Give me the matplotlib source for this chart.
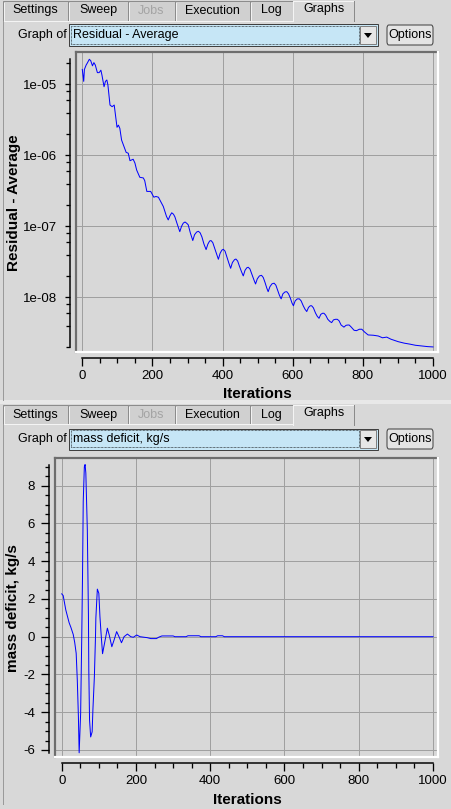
import matplotlib
matplotlib.use("Agg")
import matplotlib.pyplot as plt
from matplotlib.patches import Rectangle, FancyBboxPatch, Polygon
from matplotlib.lines import Line2D
from matplotlib.ticker import FixedLocator, FuncFormatter, MultipleLocator, NullFormatter

plt.rcParams['font.family'] = ['Liberation Sans', 'DejaVu Sans']
plt.rcParams['axes.unicode_minus'] = False

W, H = 451, 809
PT = 0.72          # points per pixel at dpi 100
BG = '#d8d8d8'

tab_names = ['Settings', 'Sweep', 'Jobs', 'Execution', 'Log', 'Graphs']
panel_titles = ['Residual - Average', 'mass deficit, kg/s']
x_label = 'Iterations'

# residual history
res_iter = [0, 4, 6, 11, 14, 20, 24, 29, 33, 37,
            43, 48, 53, 56, 62, 66, 70, 73, 79, 85,
            91, 96, 99, 103, 107, 112, 119, 125, 131, 136,
            145, 150, 155, 164, 174, 178, 184, 195, 204, 210,
            217, 231, 240, 245, 250, 255, 260, 264, 270, 278,
            283, 288, 293, 298, 302, 308, 315, 320, 326, 331,
            336, 341, 347, 353, 358, 363, 367, 372, 378, 383,
            388, 393, 398, 402, 407, 412, 418, 423, 428, 434,
            438, 443, 448, 454, 459, 464, 469, 473, 478, 483,
            489, 494, 499, 505, 511, 516, 521, 526, 530, 535,
            541, 547, 552, 557, 562, 567, 572, 578, 583, 588,
            593, 598, 602, 607, 613, 619, 624, 630, 635, 640,
            645, 650, 654, 659, 665, 670, 675, 680, 685, 689,
            694, 700, 706, 711, 716, 722, 727, 732, 738, 743,
            746, 752, 757, 761, 767, 775, 782, 790, 797, 805,
            815, 830, 844, 856, 868, 880, 901, 918, 934, 950,
            968, 985, 1000]
res_val = [1.62e-5, 1.10e-5, 1.62e-5, 1.87e-5, 1.98e-5, 2.25e-5, 2.15e-5, 1.82e-5, 2.02e-5, 1.87e-5,
           1.46e-5, 1.46e-5, 1.58e-5, 1.35e-5, 9.25e-6, 1.10e-5, 1.15e-5, 9.8e-6, 5.1e-6, 4.84e-6,
           5.1e-6, 3.3e-6, 2.48e-6, 2.66e-6, 2.4e-6, 1.64e-6, 1.32e-6, 1.10e-6, 1.07e-6, 8.4e-7,
           8.8e-7, 7.8e-7, 6.2e-7, 4.9e-7, 4.8e-7, 4.4e-7, 3.1e-7, 3.1e-7, 2.57e-7, 2.63e-7,
           2.57e-7, 1.9e-7, 1.38e-7, 1.23e-7, 1.41e-7, 1.55e-7, 1.48e-7, 1.36e-7, 1.10e-7, 8.4e-8,
           1.0e-7, 1.11e-7, 1.15e-7, 1.10e-7, 1.05e-7, 8.1e-8, 6.3e-8, 7.6e-8, 8.3e-8, 8.5e-8,
           8.1e-8, 7.1e-8, 5.6e-8, 4.7e-8, 5.6e-8, 6.2e-8, 6.3e-8, 5.9e-8, 4.8e-8, 4.0e-8,
           3.43e-8, 4.17e-8, 4.62e-8, 4.74e-8, 4.47e-8, 3.72e-8, 3.02e-8, 2.56e-8, 3.09e-8, 3.39e-8,
           3.46e-8, 3.24e-8, 2.75e-8, 2.29e-8, 2.0e-8, 2.4e-8, 2.6e-8, 2.65e-8, 2.51e-8, 2.14e-8,
           1.78e-8, 1.54e-8, 1.82e-8, 2.0e-8, 2.04e-8, 1.9e-8, 1.62e-8, 1.35e-8, 1.2e-8, 1.41e-8,
           1.55e-8, 1.58e-8, 1.48e-8, 1.26e-8, 1.07e-8, 9.5e-9, 1.12e-8, 1.19e-8, 1.2e-8, 1.12e-8,
           9.8e-9, 8.3e-9, 7.6e-9, 8.9e-9, 9.5e-9, 9.5e-9, 8.9e-9, 7.6e-9, 6.8e-9, 6.3e-9,
           7.2e-9, 7.6e-9, 7.6e-9, 7.1e-9, 6.0e-9, 5.4e-9, 5.06e-9, 5.75e-9, 5.96e-9, 5.96e-9,
           5.6e-9, 4.9e-9, 4.57e-9, 4.4e-9, 4.8e-9, 4.9e-9, 4.9e-9, 4.68e-9, 4.07e-9, 3.9e-9,
           3.8e-9, 4.03e-9, 4.07e-9, 4.07e-9, 3.8e-9, 3.43e-9, 3.39e-9, 3.55e-9, 3.55e-9, 3.24e-9,
           2.95e-9, 2.92e-9, 2.85e-9, 2.69e-9, 2.75e-9, 2.57e-9, 2.37e-9, 2.26e-9, 2.19e-9, 2.11e-9,
           2.06e-9, 2.02e-9, 2.0e-9]

# mass deficit history, kg/s
mass_iter = [0, 4, 11, 20, 25, 31, 35, 39, 42, 45,
             47, 51, 54, 56, 58, 61, 63, 65, 69, 72,
             73, 75, 78, 82, 84, 88, 91, 92, 96, 100,
             103, 106, 110, 117, 123, 128, 135, 141, 148, 155,
             161, 168, 177, 186, 193, 202, 211, 230, 240, 255,
             262, 270, 300, 305, 335, 340, 370, 375, 415, 420,
             433, 438, 1000]
mass_val = [2.27, 2.18, 1.42, 0.74, 0.48, 0.12, -0.3, -0.88, -2.3, -4.25,
            -6.15, -4.07, 0.0, 3.1, 7.17, 9.0, 9.12, 8.67, 5.67, 1.15,
            -1.77, -4.42, -5.31, -5.04, -3.89, -2.12, 0.0, 0.98, 2.52, 2.3,
            1.06, 0.18, -0.9, -0.18, 0.45, 0.09, -0.53, -0.18, 0.27, -0.03,
            -0.32, 0.0, 0.14, 0.0, -0.03, 0.09, 0.0, -0.05, -0.1, -0.1,
            -0.02, 0.04, 0.04, 0.0, 0.0, 0.05, 0.05, 0.0, 0.0, 0.05,
            0.05, 0.0, 0.0]


def fx(x):
    return x / W


def fy(y):
    return 1 - y / H


def px_line(fig, xs, ys, **kw):
    fig.add_artist(Line2D([fx(x) for x in xs], [fy(y) for y in ys],
                          transform=fig.transFigure, **kw))


def px_rect(fig, x0, y0, x1, y1, **kw):
    fig.add_artist(Rectangle((fx(x0), fy(y1)), (x1 - x0) / W, (y1 - y0) / H,
                             transform=fig.transFigure, **kw))


def span(a_px, b_px, a_val, b_val, lo_px, hi_px):
    # value range that maps the pixel box lo_px..hi_px, given two reference pixels
    k = (b_val - a_val) / (b_px - a_px)
    return a_val + (lo_px - a_px) * k, a_val + (hi_px - a_px) * k


def draw_chrome(fig, oy, title):
    edges = [3, 68, 128, 175, 250, 293, 354]
    for i, name in enumerate(tab_names):
        x0, x1 = edges[i], edges[i + 1]
        if name == 'Graphs':
            px_rect(fig, x0, oy + 0.5, x1, oy + 21, facecolor=BG, edgecolor='none')
            px_line(fig, [x0, x0, x1], [oy + 21, oy + 0.5, oy + 0.5], color='#f4f4f4', lw=1.0 * PT)
            px_line(fig, [x1, x1], [oy + 0.5, oy + 21], color='#8a8a8a', lw=1.0 * PT)
            fig.text(fx((x0 + x1) / 2), fy(oy + 9), name, ha='center', va='center', size=9)
        else:
            px_rect(fig, x0, oy + 1.5, x1, oy + 20.5, facecolor='#d0d0d0',
                    edgecolor='#8c8c8c', lw=1.0 * PT)
            px_line(fig, [x0 + 1, x0 + 1], [oy + 2.5, oy + 20], color='#f2f2f2', lw=1.0 * PT)
            col = '#a4a4a4' if name == 'Jobs' else 'black'
            fig.text(fx((x0 + x1) / 2), fy(oy + 10.5), name, ha='center', va='center',
                     size=9, color=col)
    px_line(fig, [3, 293], [oy + 20.5, oy + 20.5], color='#f4f4f4', lw=1.0 * PT)
    px_line(fig, [3, 3], [oy + 20.5, oy + 400], color='#9a9a9a', lw=1.0 * PT)

    # "Graph of" combo box
    fig.text(fx(67), fy(oy + 35), 'Graph of', ha='right', va='center', size=9)
    px_rect(fig, 69, oy + 24.5, 377.5, oy + 45.5, facecolor='#c6e6f6',
            edgecolor='#404040', lw=1.0 * PT)
    px_rect(fig, 71, oy + 26.5, 358.5, oy + 43.5, facecolor='none',
            edgecolor='black', lw=0.7 * PT, linestyle=(0, (1, 1)))
    px_rect(fig, 360, oy + 26, 376, oy + 44, facecolor='#e6e6e6',
            edgecolor='#808080', lw=1.0 * PT)
    fig.add_artist(Polygon([(fx(364), fy(oy + 33)), (fx(372), fy(oy + 33)),
                            (fx(368), fy(oy + 38))], closed=True,
                           transform=fig.transFigure, facecolor='black', edgecolor='none'))
    fig.text(fx(73), fy(oy + 35), title, ha='left', va='center', size=9)

    # Options button
    fig.add_artist(FancyBboxPatch((fx(387), fy(oy + 45)), 46 / W, 20 / H,
                                  boxstyle='round,pad=0,rounding_size=0.004',
                                  transform=fig.transFigure, facecolor='#e4e4e4',
                                  edgecolor='#404040', lw=1.0 * PT))
    fig.text(fx(410), fy(oy + 35), 'Options', ha='center', va='center', size=9)


def style_axes(ax, ylog_labels):
    ax.set_facecolor(BG)
    ax.spines['top'].set_visible(False)
    ax.spines['right'].set_visible(False)
    for side in ['left', 'bottom']:
        ax.spines[side].set_position(('outward', 6 * PT))
        ax.spines[side].set_linewidth(1.5 * PT)
    ax.set_axisbelow(True)
    ax.grid(True, which='major', color='#a0a0a0', lw=1.0 * PT)
    ax.xaxis.set_major_locator(MultipleLocator(200))
    ax.xaxis.set_minor_locator(MultipleLocator(50))
    ax.tick_params(axis='both', which='both', direction='out', width=1.3 * PT,
                   labelsize=9.5)
    ax.tick_params(axis='x', which='major', length=8 * PT, pad=4 * PT)
    ax.tick_params(axis='x', which='minor', length=4.5 * PT)
    # sunken frame: dark left/top, white right/bottom
    for xs, ys, c in [([0, 0], [0, 1], '#6e6e6e'), ([0, 1], [1, 1], '#6e6e6e'),
                      ([1, 1], [0, 1], 'white'), ([0, 1], [0, 0], 'white')]:
        ax.add_line(Line2D(xs, ys, transform=ax.transAxes, color=c,
                           lw=2.2 * PT, clip_on=False, zorder=5))


fig = plt.figure(figsize=(W / 100, H / 100), dpi=100, facecolor=BG)

# ---- top panel: residual, log scale ----
draw_chrome(fig, 0, panel_titles[0])
ax1 = fig.add_axes([fx(76), fy(352), 362 / W, 300 / H])
ax1.plot(res_iter, res_val, color='#0000ff', lw=1.0 * PT)
ax1.set_yscale('log')
ax1.set_xlim(*span(82.3, 433, 0, 1000, 76, 438))
lo, hi = span(84.3, 297.3, -5, -8, 352, 52)
ax1.set_ylim(10 ** lo, 10 ** hi)
style_axes(ax1, True)
ax1.spines['left'].set_bounds(min(res_val), max(res_val))
ax1.spines['bottom'].set_bounds(0, 1000)
decades = [1e-8, 1e-7, 1e-6, 1e-5]
minors = [m * 10.0 ** e for e in range(-9, -4) for m in (2, 4, 6, 8)]
minors = [v for v in minors if min(res_val) <= v <= max(res_val)]
ax1.yaxis.set_major_locator(FixedLocator(decades))
ax1.yaxis.set_minor_locator(FixedLocator(minors))
ax1.yaxis.set_minor_formatter(NullFormatter())
ax1.yaxis.set_major_formatter(FuncFormatter(lambda v, p: f"{v:.0e}"))
ax1.tick_params(axis='y', which='major', length=5 * PT, pad=8 * PT)
ax1.tick_params(axis='y', which='minor', length=4 * PT)
fig.text(fx(14), fy(203), panel_titles[0], rotation=90, ha='center', va='center',
         size=11, weight='bold')
fig.text(fx(257.5), fy(398), x_label, ha='center', va='baseline', size=11, weight='bold')

# separator between the two screenshots
px_rect(fig, 0, 400, 451, 404, facecolor='#e8e8e8', edgecolor='none')

# ---- bottom panel: mass deficit ----
draw_chrome(fig, 404, panel_titles[1])
ax2 = fig.add_axes([fx(55), fy(757), 383 / W, 299 / H])
ax2.plot(mass_iter, mass_val, color='#0000ff', lw=1.0 * PT)
ax2.set_xlim(*span(61.7, 433, 0, 1000, 55, 438))
ax2.set_ylim(*span(636.7, 485.7, 0, 8, 757, 458))
style_axes(ax2, False)
ax2.spines['left'].set_bounds(min(mass_val), max(mass_val))
ax2.spines['bottom'].set_bounds(0, 1000)
ax2.yaxis.set_major_locator(MultipleLocator(2))
ax2.yaxis.set_minor_locator(MultipleLocator(0.5))
ax2.yaxis.set_major_formatter(FuncFormatter(lambda v, p: f"{v:g}"))
ax2.tick_params(axis='y', which='major', length=8 * PT, pad=6 * PT)
ax2.tick_params(axis='y', which='minor', length=4.5 * PT)
fig.text(fx(13), fy(608), panel_titles[1], rotation=90, ha='center', va='center',
         size=11, weight='bold')
fig.text(fx(247.5), fy(804), x_label, ha='center', va='baseline', size=11, weight='bold')

fig.savefig('out.png', dpi=100, facecolor=BG)
